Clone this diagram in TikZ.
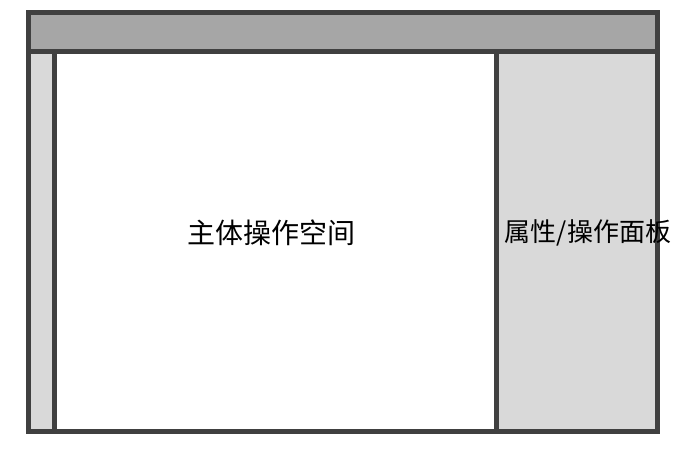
\documentclass[tikz,border=0pt]{standalone}
\usepackage{fontspec}
\newfontfamily\cjk{Noto Sans CJK SC}
\usepackage{tikz}
\definecolor{framegray}{HTML}{404040}
\definecolor{bargray}{HTML}{A6A6A6}
\definecolor{panelgray}{HTML}{D9D9D9}

\begin{document}
\begin{tikzpicture}[x=1pt, y=-1pt, line width=5pt]
\tikzset{region/.style={draw=framegray}, areatext/.style={font=\cjk\fontsize{26pt}{30pt}\selectfont, inner sep=0pt}}
\useasboundingbox (0,0) rectangle (682,456);
\fill[white] (0,0) rectangle (682,456);

\filldraw[region, fill=bargray] (28.5,12.5) rectangle (657.5,51);
\filldraw[region, fill=panelgray] (28.5,51) rectangle (54.5,431.5);
\filldraw[region, fill=white] (54.5,51) rectangle (496.5,431.5);
\filldraw[region, fill=panelgray] (496.5,51) rectangle (657.5,431.5);

\node (workspace) [areatext, font=\cjk\fontsize{28pt}{32pt}\selectfont] at (271,232.5) {主体操作空间};
\node (panel) [areatext] at (588,232.5) {属性/操作面板};
\end{tikzpicture}
\end{document}
